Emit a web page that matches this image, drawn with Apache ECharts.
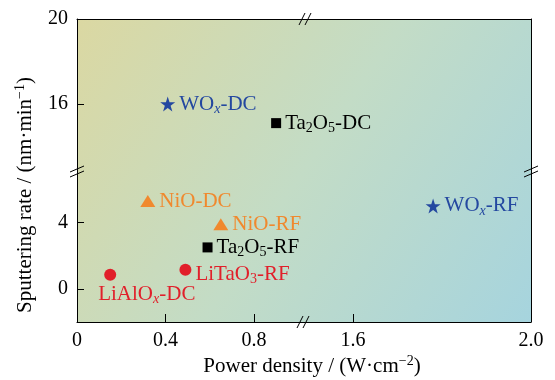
<!DOCTYPE html>
<html><head><meta charset="utf-8">
<script src="https://cdn.jsdelivr.net/npm/echarts@6/dist/echarts.min.js"></script>
<style>html,body{margin:0;padding:0;background:#fff}#c{width:555px;height:380px}</style>
</head><body><div id="c"></div>
<script>
// ---- data ----
const names = ['WOx-DC', 'WOx-RF', 'Ta2O5-DC', 'Ta2O5-RF', 'NiO-DC', 'NiO-RF', 'LiAlOx-DC', 'LiTaO3-RF'];
const power = [0.41, 1.78, 0.90, 0.59, 0.32, 0.65, 0.15, 0.49];
const rate = [16.0, 5.0, 15.1, 2.5, 5.3, 3.9, 0.85, 1.15];
const xTicksLeft = [0, 0.4, 0.8];
const xTicksRight = [1.6, 2.0];
const yTicksLower = [0, 4];
const yTicksUpper = [16, 20];

// ---- styles ----
const FONT = '"Liberation Serif", "Times New Roman", serif';
const BLUE = '#2448a0', ORANGE = '#f0892e', RED = '#e11f2a', BLACK = '#000';
const STAR = 'path://M50,0 L61.8,35.1 L98.9,35.1 L68.8,56.7 L80.2,91.8 L50,70 L19.8,91.8 L31.2,56.7 L1.1,35.1 L38.2,35.1 Z';
const styleOf = {
  'WOx-DC':    {c: BLUE,   sym: STAR, size: 15, text: '{b|WO}{si|x}{b|-DC}'},
  'WOx-RF':    {c: BLUE,   sym: STAR, size: 15, text: '{b|WO}{si|x}{b|-RF}'},
  'Ta2O5-DC':  {c: BLACK,  sym: 'rect', size: 10, text: '{b|Ta}{s|2}{b|O}{s|5}{b|-DC}'},
  'Ta2O5-RF':  {c: BLACK,  sym: 'rect', size: 10, text: '{b|Ta}{s|2}{b|O}{s|5}{b|-RF}'},
  'NiO-DC':    {c: ORANGE, sym: 'triangle', size: [15, 12], text: '{b|NiO-DC}'},
  'NiO-RF':    {c: ORANGE, sym: 'triangle', size: [15, 12], text: '{b|NiO-RF}'},
  'LiAlOx-DC': {c: RED,    sym: 'circle', size: 12, text: '{b|LiAlO}{si|x}{b|-DC}', pos: 'bottom', align: 'left', offset: [-12, -2]},
  'LiTaO3-RF': {c: RED,    sym: 'circle', size: 12, text: '{b|LiTaO}{s|3}{b|-RF}', offset: [0, 5]}
};

function rich(color) {
  return {
    b: {fontFamily: FONT, fontSize: 21, color: color, lineHeight: 24, verticalAlign: 'middle'},
    s: {fontFamily: FONT, fontSize: 14, color: color, lineHeight: 24, verticalAlign: 'bottom'},
    si: {fontFamily: FONT, fontSize: 14, fontStyle: 'italic', color: color, lineHeight: 24, verticalAlign: 'bottom'}
  };
}

// plot geometry (px)
const L = 77, R = 531, T = 19, B = 322, BX = 300, BY = 170;
const grids = [
  {left: L, top: BY, width: BX - L, height: B - BY},   // lower-left
  {left: L, top: T, width: BX - L, height: BY - T},    // upper-left
  {left: BX, top: BY, width: R - BX, height: B - BY},  // lower-right
  {left: BX, top: T, width: R - BX, height: BY - T}    // upper-right
];
const xRanges = [[0, 1.0079], [0, 1.0079], [1.4809, 2.0], [1.4809, 2.0]];
const yRanges = [[-2, 7.17], [12.894, 20], [-2, 7.17], [12.894, 20]];

const lineStyle = {color: '#000', width: 1};
const labelStyle = {fontFamily: FONT, fontSize: 20, color: '#000'};
const xAxes = grids.map((g, i) => {
  const bottom = (i === 0 || i === 2);
  const ticks = i === 0 ? xTicksLeft : (i === 2 ? xTicksRight : []);
  return {
    type: 'value', gridIndex: i, min: xRanges[i][0], max: xRanges[i][1],
    position: bottom ? 'bottom' : 'top',
    axisLine: {show: true, onZero: false, lineStyle},
    axisTick: {show: bottom, inside: true, length: 8, lineStyle, customValues: ticks},
    axisLabel: {show: bottom, ...labelStyle, margin: 9, customValues: ticks,
      formatter: v => (v === 0 ? '0' : v.toFixed(1))},
    splitLine: {show: false}
  };
});
const yAxes = grids.map((g, i) => {
  const left = (i === 0 || i === 1);
  const ticks = i === 0 ? yTicksLower : (i === 1 ? yTicksUpper : []);
  return {
    type: 'value', gridIndex: i, min: yRanges[i][0], max: yRanges[i][1],
    position: left ? 'left' : 'right',
    axisLine: {show: true, onZero: false, lineStyle},
    axisTick: {show: left, inside: true, length: 7, lineStyle, customValues: ticks},
    axisLabel: {show: left, ...labelStyle, margin: 9, customValues: ticks},
    splitLine: {show: false}
  };
});

const series = names.map((n, k) => {
  const st = styleOf[n];
  const right = power[k] > 1.2, upper = rate[k] > 10;
  const gi = (right ? 2 : 0) + (upper ? 1 : 0);
  return {
    type: 'scatter', name: n, xAxisIndex: gi, yAxisIndex: gi,
    symbol: st.sym, symbolSize: st.size,
    itemStyle: {color: st.c, opacity: 1},
    data: [[power[k], rate[k]]],
    label: {
      show: true, position: st.pos || 'right', distance: 4,
      align: st.align, offset: st.offset || [0, 0],
      fontFamily: FONT, fontSize: 21, color: st.c,
      formatter: st.text, rich: rich(st.c)
    },
    z: 5
  };
});

function brk(x1, y1, x2, y2) {
  return {type: 'line', shape: {x1, y1, x2, y2}, style: {stroke: '#000', lineWidth: 1}, z: 100, silent: true};
}

const chart = echarts.init(document.getElementById('c'), null, {renderer: 'canvas'});
chart.setOption({
  animation: false,
  textStyle: {fontFamily: FONT},
  grid: grids,
  xAxis: xAxes,
  yAxis: yAxes,
  series: series,
  graphic: [
    {type: 'rect', shape: {x: L, y: T, width: R - L, height: B - T}, z: -10, silent: true,
      style: {fill: {type: 'linear', x: 0, y: 0, x2: 1, y2: 1, colorStops: [
        {offset: 0, color: '#dbd8a2'}, {offset: 0.5, color: '#c3dcc6'}, {offset: 1, color: '#a6d4de'}]}}},
    // break marks
    brk(297, 328, 303, 316), brk(303, 328, 309, 316),
    brk(299, 25, 305, 13), brk(305, 25, 311, 13),
    brk(70, 172, 84, 166), brk(70, 177, 84, 171),
    brk(524, 172, 538, 166), brk(524, 177, 538, 171),
    {type: 'text', x: 312, y: 366, silent: true, z: 100,
      style: {text: '{b|Power density / (W·cm}{p|−2}{b|)}', align: 'center', verticalAlign: 'middle',
        font: '21px ' + FONT,
        rich: {b: {fontFamily: FONT, fontSize: 21, fill: '#000', lineHeight: 24, verticalAlign: 'middle'},
               p: {fontFamily: FONT, fontSize: 14, fill: '#000', lineHeight: 24, verticalAlign: 'top'}}}},
    {type: 'text', x: 25, y: 195, rotation: Math.PI / 2, silent: true, z: 100,
      style: {text: '{b|Sputtering rate / (nm·min}{p|−1}{b|)}', align: 'center', verticalAlign: 'middle',
        font: '21px ' + FONT,
        rich: {b: {fontFamily: FONT, fontSize: 21, fill: '#000', lineHeight: 24, verticalAlign: 'middle'},
               p: {fontFamily: FONT, fontSize: 14, fill: '#000', lineHeight: 24, verticalAlign: 'top'}}}}
  ]
});
</script></body></html>
